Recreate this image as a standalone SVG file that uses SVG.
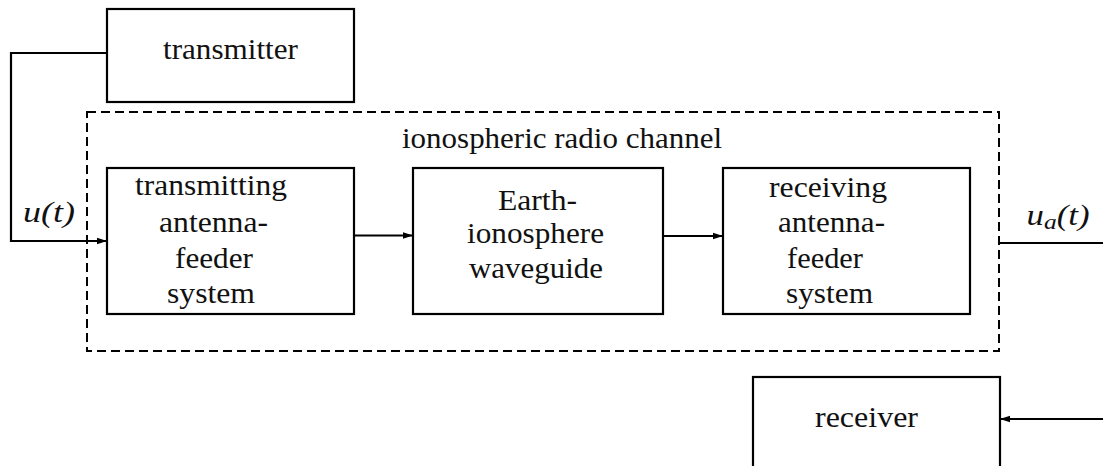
<svg xmlns="http://www.w3.org/2000/svg" width="1103" height="466" viewBox="0 0 1103 466" font-family="Liberation Serif, DejaVu Serif, serif">
<style>
.box{fill:#fff;stroke:#000;stroke-width:2.2}
.dash{fill:none;stroke:#000;stroke-width:2;stroke-dasharray:9 5}
.ln{fill:none;stroke:#000;stroke-width:2.2}
text{font-size:29px;fill:#111;text-anchor:middle}
.it{font-style:italic;font-size:30px}
</style>
<defs>
<marker id="ah" markerWidth="10" markerHeight="8" refX="10" refY="4" orient="auto" markerUnits="userSpaceOnUse">
<path d="M0,0.8 L10,4 L0,7.2 Z" fill="#000"/>
</marker>
</defs>
<g id="channel">
<rect class="dash" x="87" y="112" width="912" height="239"/>
<text x="562" y="148" textLength="320" lengthAdjust="spacingAndGlyphs">ionospheric radio channel</text>
</g>
<g id="transmitter">
<rect class="box" x="107" y="9" width="247" height="93"/>
<text x="230.5" y="59" textLength="135" lengthAdjust="spacingAndGlyphs">transmitter</text>
</g>
<g id="tx-afs">
<rect class="box" x="107" y="168" width="247" height="146"/>
<text x="211" y="195" textLength="152" lengthAdjust="spacingAndGlyphs">transmitting</text>
<text x="213.5" y="232" textLength="109" lengthAdjust="spacingAndGlyphs">antenna-</text>
<text x="214" y="268" textLength="78" lengthAdjust="spacingAndGlyphs">feeder</text>
<text x="211" y="303" textLength="88" lengthAdjust="spacingAndGlyphs">system</text>
</g>
<g id="waveguide">
<rect class="box" x="413" y="168" width="250" height="146"/>
<text x="537.5" y="210" textLength="79" lengthAdjust="spacingAndGlyphs">Earth-</text>
<text x="535.5" y="243" textLength="137" lengthAdjust="spacingAndGlyphs">ionosphere</text>
<text x="536" y="278" textLength="134" lengthAdjust="spacingAndGlyphs">waveguide</text>
</g>
<g id="rx-afs">
<rect class="box" x="723" y="168" width="247" height="146"/>
<text x="828" y="197" textLength="118" lengthAdjust="spacingAndGlyphs">receiving</text>
<text x="831.5" y="232" textLength="107" lengthAdjust="spacingAndGlyphs">antenna-</text>
<text x="825" y="268" textLength="76" lengthAdjust="spacingAndGlyphs">feeder</text>
<text x="829.5" y="303" textLength="87" lengthAdjust="spacingAndGlyphs">system</text>
</g>
<g id="receiver">
<rect class="box" x="753" y="377" width="247" height="100"/>
<text x="866.5" y="427" textLength="103" lengthAdjust="spacingAndGlyphs">receiver</text>
</g>
<g id="connectors">
<path class="ln" d="M107,53 H11 V241 H107" marker-end="url(#ah)"/>
<path class="ln" d="M354,235.5 H413" marker-end="url(#ah)"/>
<path class="ln" d="M663,236 H723" marker-end="url(#ah)"/>
<path class="ln" d="M999,243 H1103"/>
<path class="ln" d="M1103,419 H1000" marker-end="url(#ah)"/>
<text class="it" x="49" y="222" textLength="52" lengthAdjust="spacingAndGlyphs">u(t)</text>
<text class="it" x="1058" y="225" textLength="63" lengthAdjust="spacingAndGlyphs">u<tspan font-size="22" dy="4">a</tspan><tspan dy="-4">(t)</tspan></text>
</g>
</svg>
